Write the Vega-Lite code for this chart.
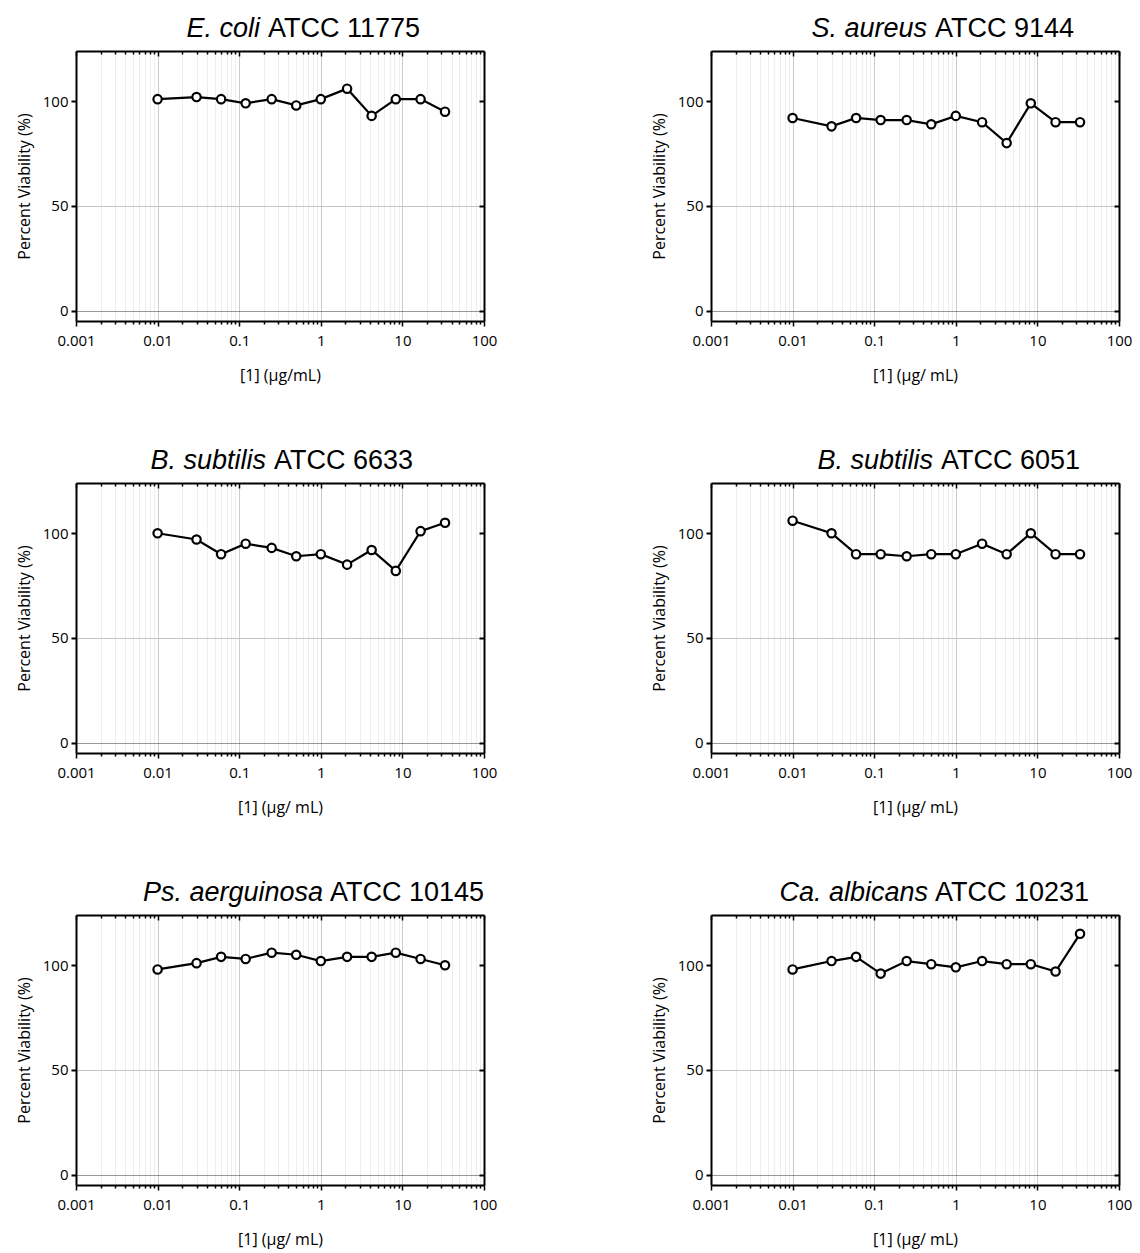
{
  "$schema": "https://vega.github.io/schema/vega-lite/v6.json",
  "background": "white",
  "padding": {"left": 16, "top": 15, "right": 5, "bottom": 2},
  "datasets": {
    "d": [
      {"panel": "p1", "conc": 0.01, "viability": 101}, {"panel": "p1", "conc": 0.03, "viability": 102}, {"panel": "p1", "conc": 0.06, "viability": 101}, {"panel": "p1", "conc": 0.12, "viability": 99}, {"panel": "p1", "conc": 0.25, "viability": 101}, {"panel": "p1", "conc": 0.5, "viability": 98}, {"panel": "p1", "conc": 1, "viability": 101}, {"panel": "p1", "conc": 2.1, "viability": 106}, {"panel": "p1", "conc": 4.2, "viability": 93}, {"panel": "p1", "conc": 8.3, "viability": 101}, {"panel": "p1", "conc": 16.7, "viability": 101}, {"panel": "p1", "conc": 33.3, "viability": 95},
      {"panel": "p2", "conc": 0.01, "viability": 92}, {"panel": "p2", "conc": 0.03, "viability": 88}, {"panel": "p2", "conc": 0.06, "viability": 92}, {"panel": "p2", "conc": 0.12, "viability": 91}, {"panel": "p2", "conc": 0.25, "viability": 91}, {"panel": "p2", "conc": 0.5, "viability": 89}, {"panel": "p2", "conc": 1, "viability": 93}, {"panel": "p2", "conc": 2.1, "viability": 90}, {"panel": "p2", "conc": 4.2, "viability": 80}, {"panel": "p2", "conc": 8.3, "viability": 99}, {"panel": "p2", "conc": 16.7, "viability": 90}, {"panel": "p2", "conc": 33.3, "viability": 90},
      {"panel": "p3", "conc": 0.01, "viability": 100}, {"panel": "p3", "conc": 0.03, "viability": 97}, {"panel": "p3", "conc": 0.06, "viability": 90}, {"panel": "p3", "conc": 0.12, "viability": 95}, {"panel": "p3", "conc": 0.25, "viability": 93}, {"panel": "p3", "conc": 0.5, "viability": 89}, {"panel": "p3", "conc": 1, "viability": 90}, {"panel": "p3", "conc": 2.1, "viability": 85}, {"panel": "p3", "conc": 4.2, "viability": 92}, {"panel": "p3", "conc": 8.3, "viability": 82}, {"panel": "p3", "conc": 16.7, "viability": 101}, {"panel": "p3", "conc": 33.3, "viability": 105},
      {"panel": "p4", "conc": 0.01, "viability": 106}, {"panel": "p4", "conc": 0.03, "viability": 100}, {"panel": "p4", "conc": 0.06, "viability": 90}, {"panel": "p4", "conc": 0.12, "viability": 90}, {"panel": "p4", "conc": 0.25, "viability": 89}, {"panel": "p4", "conc": 0.5, "viability": 90}, {"panel": "p4", "conc": 1, "viability": 90}, {"panel": "p4", "conc": 2.1, "viability": 95}, {"panel": "p4", "conc": 4.2, "viability": 90}, {"panel": "p4", "conc": 8.3, "viability": 100}, {"panel": "p4", "conc": 16.7, "viability": 90}, {"panel": "p4", "conc": 33.3, "viability": 90},
      {"panel": "p5", "conc": 0.01, "viability": 98}, {"panel": "p5", "conc": 0.03, "viability": 101}, {"panel": "p5", "conc": 0.06, "viability": 104}, {"panel": "p5", "conc": 0.12, "viability": 103}, {"panel": "p5", "conc": 0.25, "viability": 106}, {"panel": "p5", "conc": 0.5, "viability": 105}, {"panel": "p5", "conc": 1, "viability": 102}, {"panel": "p5", "conc": 2.1, "viability": 104}, {"panel": "p5", "conc": 4.2, "viability": 104}, {"panel": "p5", "conc": 8.3, "viability": 106}, {"panel": "p5", "conc": 16.7, "viability": 103}, {"panel": "p5", "conc": 33.3, "viability": 100},
      {"panel": "p6", "conc": 0.01, "viability": 98}, {"panel": "p6", "conc": 0.03, "viability": 102}, {"panel": "p6", "conc": 0.06, "viability": 104}, {"panel": "p6", "conc": 0.12, "viability": 96}, {"panel": "p6", "conc": 0.25, "viability": 102}, {"panel": "p6", "conc": 0.5, "viability": 100.5}, {"panel": "p6", "conc": 1, "viability": 99}, {"panel": "p6", "conc": 2.1, "viability": 102}, {"panel": "p6", "conc": 4.2, "viability": 100.5}, {"panel": "p6", "conc": 8.3, "viability": 100.5}, {"panel": "p6", "conc": 16.7, "viability": 97}, {"panel": "p6", "conc": 33.3, "viability": 115}
    ]
  },
  "data": {"name": "d"},
  "columns": 2,
  "spacing": {"row": 64, "column": 154},
  "concat": [
    {
      "title": {"text": "E. coli", "subtitle": "ATCC 11775", "dx": 184, "encode": {"title": {"update": {"align": {"value": "right"}}}, "subtitle": {"update": {"align": {"value": "left"}, "dx": {"value": 192}}}}},
      "width": 408, "height": 270,
      "transform": [{"filter": "datum.panel == 'p1'"}],
      "layer": [
        {"mark": {"type": "line", "color": "black", "strokeWidth": 2.2},
         "encoding": {
           "x": {"field": "conc", "type": "quantitative", "scale": {"type": "log", "domain": [0.001, 100], "nice": false},
             "axis": {"orient": "bottom", "values": [0.001,0.002,0.003,0.004,0.005,0.006,0.007,0.008,0.009,0.01,0.02,0.03,0.04,0.05,0.06,0.07,0.08,0.09,0.1,0.2,0.3,0.4,0.5,0.6,0.7,0.8,0.9,1,2,3,4,5,6,7,8,9,10,20,30,40,50,60,70,80,90,100],
               "grid": true,
               "gridColor": {"condition": {"test": "abs(log(datum.value)/LN10-round(log(datum.value)/LN10))<0.001", "value": "#cccccc"}, "value": "#dddddd"},
               "gridDash": {"condition": {"test": "abs(log(datum.value)/LN10-round(log(datum.value)/LN10))<0.001", "value": []}, "value": [1, 1]},
               "tickSize": {"condition": {"test": "abs(log(datum.value)/LN10-round(log(datum.value)/LN10))<0.001", "value": 5}, "value": 3},
               "tickWidth": 1.5, "tickColor": "black", "domainColor": "black", "domainWidth": 2,
               "labelExpr": "abs(log(datum.value)/LN10-round(log(datum.value)/LN10))<0.001 ? format(datum.value, '~g') : ''",
               "labelFlush": false, "labelOverlap": false, "labelPadding": 7,
               "title": "[1] (μg/mL)", "titlePadding": 19}},
           "y": {"field": "viability", "type": "quantitative", "scale": {"domain": [-5, 124], "nice": false, "zero": false},
             "axis": {"orient": "left", "values": [0, 50, 100], "grid": true,
               "gridColor": {"condition": {"test": "datum.value == 0", "value": "#333333"}, "value": "#c4c4c4"},
               "gridDash": {"condition": {"test": "datum.value == 0", "value": [1, 1]}, "value": []},
               "gridOpacity": {"condition": {"test": "datum.value == 100", "value": 0}, "value": 1},
               "tickSize": 5, "tickWidth": 2, "tickColor": "black", "domainColor": "black", "domainWidth": 2,
               "labelPadding": 3, "title": "Percent Viability (%)", "titlePadding": 10}}
         }},
        {"mark": {"type": "point", "shape": "circle", "filled": true, "fill": "white", "stroke": "black", "strokeWidth": 2.2, "size": 70, "opacity": 1},
         "encoding": {"x": {"field": "conc", "type": "quantitative", "axis": null}, "y": {"field": "viability", "type": "quantitative", "axis": null}}},
        {"mark": {"type": "point", "opacity": 0},
         "encoding": {
           "x": {"field": "conc", "type": "quantitative", "axis": {"orient": "top", "values": [0.001,0.002,0.003,0.004,0.005,0.006,0.007,0.008,0.009,0.01,0.02,0.03,0.04,0.05,0.06,0.07,0.08,0.09,0.1,0.2,0.3,0.4,0.5,0.6,0.7,0.8,0.9,1,2,3,4,5,6,7,8,9,10,20,30,40,50,60,70,80,90,100], "grid": false, "labels": false, "title": null,
             "tickSize": {"condition": {"test": "abs(log(datum.value)/LN10-round(log(datum.value)/LN10))<0.001", "value": -5}, "value": -3},
             "tickWidth": 1.5, "tickColor": "black", "domainColor": "black", "domainWidth": 2}},
           "y": {"field": "viability", "type": "quantitative", "axis": {"orient": "right", "values": [0, 50, 100], "grid": false, "labels": false, "title": null, "tickSize": -5, "tickWidth": 2, "tickColor": "black", "domainColor": "black", "domainWidth": 2}}
         }}
      ],
      "resolve": {"axis": {"x": "independent", "y": "independent"}}
    },
    {
      "title": {"text": "S. aureus", "subtitle": "ATCC 9144", "dx": 216, "encode": {"title": {"update": {"align": {"value": "right"}}}, "subtitle": {"update": {"align": {"value": "left"}, "dx": {"value": 224}}}}},
      "width": 408, "height": 270,
      "transform": [{"filter": "datum.panel == 'p2'"}],
      "layer": [
        {"mark": {"type": "line", "color": "black", "strokeWidth": 2.2},
         "encoding": {
           "x": {"field": "conc", "type": "quantitative", "scale": {"type": "log", "domain": [0.001, 100], "nice": false},
             "axis": {"orient": "bottom", "values": [0.001,0.002,0.003,0.004,0.005,0.006,0.007,0.008,0.009,0.01,0.02,0.03,0.04,0.05,0.06,0.07,0.08,0.09,0.1,0.2,0.3,0.4,0.5,0.6,0.7,0.8,0.9,1,2,3,4,5,6,7,8,9,10,20,30,40,50,60,70,80,90,100],
               "grid": true,
               "gridColor": {"condition": {"test": "abs(log(datum.value)/LN10-round(log(datum.value)/LN10))<0.001", "value": "#cccccc"}, "value": "#dddddd"},
               "gridDash": {"condition": {"test": "abs(log(datum.value)/LN10-round(log(datum.value)/LN10))<0.001", "value": []}, "value": [1, 1]},
               "tickSize": {"condition": {"test": "abs(log(datum.value)/LN10-round(log(datum.value)/LN10))<0.001", "value": 5}, "value": 3},
               "tickWidth": 1.5, "tickColor": "black", "domainColor": "black", "domainWidth": 2,
               "labelExpr": "abs(log(datum.value)/LN10-round(log(datum.value)/LN10))<0.001 ? format(datum.value, '~g') : ''",
               "labelFlush": false, "labelOverlap": false, "labelPadding": 7,
               "title": "[1] (μg/ mL)", "titlePadding": 19}},
           "y": {"field": "viability", "type": "quantitative", "scale": {"domain": [-5, 124], "nice": false, "zero": false},
             "axis": {"orient": "left", "values": [0, 50, 100], "grid": true,
               "gridColor": {"condition": {"test": "datum.value == 0", "value": "#333333"}, "value": "#c4c4c4"},
               "gridDash": {"condition": {"test": "datum.value == 0", "value": [1, 1]}, "value": []},
               "gridOpacity": {"condition": {"test": "datum.value == 100", "value": 0}, "value": 1},
               "tickSize": 5, "tickWidth": 2, "tickColor": "black", "domainColor": "black", "domainWidth": 2,
               "labelPadding": 3, "title": "Percent Viability (%)", "titlePadding": 10}}
         }},
        {"mark": {"type": "point", "shape": "circle", "filled": true, "fill": "white", "stroke": "black", "strokeWidth": 2.2, "size": 70, "opacity": 1},
         "encoding": {"x": {"field": "conc", "type": "quantitative", "axis": null}, "y": {"field": "viability", "type": "quantitative", "axis": null}}},
        {"mark": {"type": "point", "opacity": 0},
         "encoding": {
           "x": {"field": "conc", "type": "quantitative", "axis": {"orient": "top", "values": [0.001,0.002,0.003,0.004,0.005,0.006,0.007,0.008,0.009,0.01,0.02,0.03,0.04,0.05,0.06,0.07,0.08,0.09,0.1,0.2,0.3,0.4,0.5,0.6,0.7,0.8,0.9,1,2,3,4,5,6,7,8,9,10,20,30,40,50,60,70,80,90,100], "grid": false, "labels": false, "title": null,
             "tickSize": {"condition": {"test": "abs(log(datum.value)/LN10-round(log(datum.value)/LN10))<0.001", "value": -5}, "value": -3},
             "tickWidth": 1.5, "tickColor": "black", "domainColor": "black", "domainWidth": 2}},
           "y": {"field": "viability", "type": "quantitative", "axis": {"orient": "right", "values": [0, 50, 100], "grid": false, "labels": false, "title": null, "tickSize": -5, "tickWidth": 2, "tickColor": "black", "domainColor": "black", "domainWidth": 2}}
         }}
      ],
      "resolve": {"axis": {"x": "independent", "y": "independent"}}
    },
    {
      "title": {"text": "B. subtilis", "subtitle": "ATCC 6633", "dx": 190, "encode": {"title": {"update": {"align": {"value": "right"}}}, "subtitle": {"update": {"align": {"value": "left"}, "dx": {"value": 198}}}}},
      "width": 408, "height": 270,
      "transform": [{"filter": "datum.panel == 'p3'"}],
      "layer": [
        {"mark": {"type": "line", "color": "black", "strokeWidth": 2.2},
         "encoding": {
           "x": {"field": "conc", "type": "quantitative", "scale": {"type": "log", "domain": [0.001, 100], "nice": false},
             "axis": {"orient": "bottom", "values": [0.001,0.002,0.003,0.004,0.005,0.006,0.007,0.008,0.009,0.01,0.02,0.03,0.04,0.05,0.06,0.07,0.08,0.09,0.1,0.2,0.3,0.4,0.5,0.6,0.7,0.8,0.9,1,2,3,4,5,6,7,8,9,10,20,30,40,50,60,70,80,90,100],
               "grid": true,
               "gridColor": {"condition": {"test": "abs(log(datum.value)/LN10-round(log(datum.value)/LN10))<0.001", "value": "#cccccc"}, "value": "#dddddd"},
               "gridDash": {"condition": {"test": "abs(log(datum.value)/LN10-round(log(datum.value)/LN10))<0.001", "value": []}, "value": [1, 1]},
               "tickSize": {"condition": {"test": "abs(log(datum.value)/LN10-round(log(datum.value)/LN10))<0.001", "value": 5}, "value": 3},
               "tickWidth": 1.5, "tickColor": "black", "domainColor": "black", "domainWidth": 2,
               "labelExpr": "abs(log(datum.value)/LN10-round(log(datum.value)/LN10))<0.001 ? format(datum.value, '~g') : ''",
               "labelFlush": false, "labelOverlap": false, "labelPadding": 7,
               "title": "[1] (μg/ mL)", "titlePadding": 19}},
           "y": {"field": "viability", "type": "quantitative", "scale": {"domain": [-5, 124], "nice": false, "zero": false},
             "axis": {"orient": "left", "values": [0, 50, 100], "grid": true,
               "gridColor": {"condition": {"test": "datum.value == 0", "value": "#333333"}, "value": "#c4c4c4"},
               "gridDash": {"condition": {"test": "datum.value == 0", "value": [1, 1]}, "value": []},
               "gridOpacity": {"condition": {"test": "datum.value == 100", "value": 0}, "value": 1},
               "tickSize": 5, "tickWidth": 2, "tickColor": "black", "domainColor": "black", "domainWidth": 2,
               "labelPadding": 3, "title": "Percent Viability (%)", "titlePadding": 10}}
         }},
        {"mark": {"type": "point", "shape": "circle", "filled": true, "fill": "white", "stroke": "black", "strokeWidth": 2.2, "size": 70, "opacity": 1},
         "encoding": {"x": {"field": "conc", "type": "quantitative", "axis": null}, "y": {"field": "viability", "type": "quantitative", "axis": null}}},
        {"mark": {"type": "point", "opacity": 0},
         "encoding": {
           "x": {"field": "conc", "type": "quantitative", "axis": {"orient": "top", "values": [0.001,0.002,0.003,0.004,0.005,0.006,0.007,0.008,0.009,0.01,0.02,0.03,0.04,0.05,0.06,0.07,0.08,0.09,0.1,0.2,0.3,0.4,0.5,0.6,0.7,0.8,0.9,1,2,3,4,5,6,7,8,9,10,20,30,40,50,60,70,80,90,100], "grid": false, "labels": false, "title": null,
             "tickSize": {"condition": {"test": "abs(log(datum.value)/LN10-round(log(datum.value)/LN10))<0.001", "value": -5}, "value": -3},
             "tickWidth": 1.5, "tickColor": "black", "domainColor": "black", "domainWidth": 2}},
           "y": {"field": "viability", "type": "quantitative", "axis": {"orient": "right", "values": [0, 50, 100], "grid": false, "labels": false, "title": null, "tickSize": -5, "tickWidth": 2, "tickColor": "black", "domainColor": "black", "domainWidth": 2}}
         }}
      ],
      "resolve": {"axis": {"x": "independent", "y": "independent"}}
    },
    {
      "title": {"text": "B. subtilis", "subtitle": "ATCC 6051", "dx": 222, "encode": {"title": {"update": {"align": {"value": "right"}}}, "subtitle": {"update": {"align": {"value": "left"}, "dx": {"value": 230}}}}},
      "width": 408, "height": 270,
      "transform": [{"filter": "datum.panel == 'p4'"}],
      "layer": [
        {"mark": {"type": "line", "color": "black", "strokeWidth": 2.2},
         "encoding": {
           "x": {"field": "conc", "type": "quantitative", "scale": {"type": "log", "domain": [0.001, 100], "nice": false},
             "axis": {"orient": "bottom", "values": [0.001,0.002,0.003,0.004,0.005,0.006,0.007,0.008,0.009,0.01,0.02,0.03,0.04,0.05,0.06,0.07,0.08,0.09,0.1,0.2,0.3,0.4,0.5,0.6,0.7,0.8,0.9,1,2,3,4,5,6,7,8,9,10,20,30,40,50,60,70,80,90,100],
               "grid": true,
               "gridColor": {"condition": {"test": "abs(log(datum.value)/LN10-round(log(datum.value)/LN10))<0.001", "value": "#cccccc"}, "value": "#dddddd"},
               "gridDash": {"condition": {"test": "abs(log(datum.value)/LN10-round(log(datum.value)/LN10))<0.001", "value": []}, "value": [1, 1]},
               "tickSize": {"condition": {"test": "abs(log(datum.value)/LN10-round(log(datum.value)/LN10))<0.001", "value": 5}, "value": 3},
               "tickWidth": 1.5, "tickColor": "black", "domainColor": "black", "domainWidth": 2,
               "labelExpr": "abs(log(datum.value)/LN10-round(log(datum.value)/LN10))<0.001 ? format(datum.value, '~g') : ''",
               "labelFlush": false, "labelOverlap": false, "labelPadding": 7,
               "title": "[1] (μg/ mL)", "titlePadding": 19}},
           "y": {"field": "viability", "type": "quantitative", "scale": {"domain": [-5, 124], "nice": false, "zero": false},
             "axis": {"orient": "left", "values": [0, 50, 100], "grid": true,
               "gridColor": {"condition": {"test": "datum.value == 0", "value": "#333333"}, "value": "#c4c4c4"},
               "gridDash": {"condition": {"test": "datum.value == 0", "value": [1, 1]}, "value": []},
               "gridOpacity": {"condition": {"test": "datum.value == 100", "value": 0}, "value": 1},
               "tickSize": 5, "tickWidth": 2, "tickColor": "black", "domainColor": "black", "domainWidth": 2,
               "labelPadding": 3, "title": "Percent Viability (%)", "titlePadding": 10}}
         }},
        {"mark": {"type": "point", "shape": "circle", "filled": true, "fill": "white", "stroke": "black", "strokeWidth": 2.2, "size": 70, "opacity": 1},
         "encoding": {"x": {"field": "conc", "type": "quantitative", "axis": null}, "y": {"field": "viability", "type": "quantitative", "axis": null}}},
        {"mark": {"type": "point", "opacity": 0},
         "encoding": {
           "x": {"field": "conc", "type": "quantitative", "axis": {"orient": "top", "values": [0.001,0.002,0.003,0.004,0.005,0.006,0.007,0.008,0.009,0.01,0.02,0.03,0.04,0.05,0.06,0.07,0.08,0.09,0.1,0.2,0.3,0.4,0.5,0.6,0.7,0.8,0.9,1,2,3,4,5,6,7,8,9,10,20,30,40,50,60,70,80,90,100], "grid": false, "labels": false, "title": null,
             "tickSize": {"condition": {"test": "abs(log(datum.value)/LN10-round(log(datum.value)/LN10))<0.001", "value": -5}, "value": -3},
             "tickWidth": 1.5, "tickColor": "black", "domainColor": "black", "domainWidth": 2}},
           "y": {"field": "viability", "type": "quantitative", "axis": {"orient": "right", "values": [0, 50, 100], "grid": false, "labels": false, "title": null, "tickSize": -5, "tickWidth": 2, "tickColor": "black", "domainColor": "black", "domainWidth": 2}}
         }}
      ],
      "resolve": {"axis": {"x": "independent", "y": "independent"}}
    },
    {
      "title": {"text": "Ps. aerguinosa", "subtitle": "ATCC 10145", "dx": 247, "encode": {"title": {"update": {"align": {"value": "right"}}}, "subtitle": {"update": {"align": {"value": "left"}, "dx": {"value": 254}}}}},
      "width": 408, "height": 270,
      "transform": [{"filter": "datum.panel == 'p5'"}],
      "layer": [
        {"mark": {"type": "line", "color": "black", "strokeWidth": 2.2},
         "encoding": {
           "x": {"field": "conc", "type": "quantitative", "scale": {"type": "log", "domain": [0.001, 100], "nice": false},
             "axis": {"orient": "bottom", "values": [0.001,0.002,0.003,0.004,0.005,0.006,0.007,0.008,0.009,0.01,0.02,0.03,0.04,0.05,0.06,0.07,0.08,0.09,0.1,0.2,0.3,0.4,0.5,0.6,0.7,0.8,0.9,1,2,3,4,5,6,7,8,9,10,20,30,40,50,60,70,80,90,100],
               "grid": true,
               "gridColor": {"condition": {"test": "abs(log(datum.value)/LN10-round(log(datum.value)/LN10))<0.001", "value": "#cccccc"}, "value": "#dddddd"},
               "gridDash": {"condition": {"test": "abs(log(datum.value)/LN10-round(log(datum.value)/LN10))<0.001", "value": []}, "value": [1, 1]},
               "tickSize": {"condition": {"test": "abs(log(datum.value)/LN10-round(log(datum.value)/LN10))<0.001", "value": 5}, "value": 3},
               "tickWidth": 1.5, "tickColor": "black", "domainColor": "black", "domainWidth": 2,
               "labelExpr": "abs(log(datum.value)/LN10-round(log(datum.value)/LN10))<0.001 ? format(datum.value, '~g') : ''",
               "labelFlush": false, "labelOverlap": false, "labelPadding": 7,
               "title": "[1] (μg/ mL)", "titlePadding": 19}},
           "y": {"field": "viability", "type": "quantitative", "scale": {"domain": [-5, 124], "nice": false, "zero": false},
             "axis": {"orient": "left", "values": [0, 50, 100], "grid": true,
               "gridColor": {"condition": {"test": "datum.value == 0", "value": "#333333"}, "value": "#c4c4c4"},
               "gridDash": {"condition": {"test": "datum.value == 0", "value": [1, 1]}, "value": []},
               "gridOpacity": {"condition": {"test": "datum.value == 100", "value": 0}, "value": 1},
               "tickSize": 5, "tickWidth": 2, "tickColor": "black", "domainColor": "black", "domainWidth": 2,
               "labelPadding": 3, "title": "Percent Viability (%)", "titlePadding": 10}}
         }},
        {"mark": {"type": "point", "shape": "circle", "filled": true, "fill": "white", "stroke": "black", "strokeWidth": 2.2, "size": 70, "opacity": 1},
         "encoding": {"x": {"field": "conc", "type": "quantitative", "axis": null}, "y": {"field": "viability", "type": "quantitative", "axis": null}}},
        {"mark": {"type": "point", "opacity": 0},
         "encoding": {
           "x": {"field": "conc", "type": "quantitative", "axis": {"orient": "top", "values": [0.001,0.002,0.003,0.004,0.005,0.006,0.007,0.008,0.009,0.01,0.02,0.03,0.04,0.05,0.06,0.07,0.08,0.09,0.1,0.2,0.3,0.4,0.5,0.6,0.7,0.8,0.9,1,2,3,4,5,6,7,8,9,10,20,30,40,50,60,70,80,90,100], "grid": false, "labels": false, "title": null,
             "tickSize": {"condition": {"test": "abs(log(datum.value)/LN10-round(log(datum.value)/LN10))<0.001", "value": -5}, "value": -3},
             "tickWidth": 1.5, "tickColor": "black", "domainColor": "black", "domainWidth": 2}},
           "y": {"field": "viability", "type": "quantitative", "axis": {"orient": "right", "values": [0, 50, 100], "grid": false, "labels": false, "title": null, "tickSize": -5, "tickWidth": 2, "tickColor": "black", "domainColor": "black", "domainWidth": 2}}
         }}
      ],
      "resolve": {"axis": {"x": "independent", "y": "independent"}}
    },
    {
      "title": {"text": "Ca. albicans", "subtitle": "ATCC 10231", "dx": 217, "encode": {"title": {"update": {"align": {"value": "right"}}}, "subtitle": {"update": {"align": {"value": "left"}, "dx": {"value": 224}}}}},
      "width": 408, "height": 270,
      "transform": [{"filter": "datum.panel == 'p6'"}],
      "layer": [
        {"mark": {"type": "line", "color": "black", "strokeWidth": 2.2},
         "encoding": {
           "x": {"field": "conc", "type": "quantitative", "scale": {"type": "log", "domain": [0.001, 100], "nice": false},
             "axis": {"orient": "bottom", "values": [0.001,0.002,0.003,0.004,0.005,0.006,0.007,0.008,0.009,0.01,0.02,0.03,0.04,0.05,0.06,0.07,0.08,0.09,0.1,0.2,0.3,0.4,0.5,0.6,0.7,0.8,0.9,1,2,3,4,5,6,7,8,9,10,20,30,40,50,60,70,80,90,100],
               "grid": true,
               "gridColor": {"condition": {"test": "abs(log(datum.value)/LN10-round(log(datum.value)/LN10))<0.001", "value": "#cccccc"}, "value": "#dddddd"},
               "gridDash": {"condition": {"test": "abs(log(datum.value)/LN10-round(log(datum.value)/LN10))<0.001", "value": []}, "value": [1, 1]},
               "tickSize": {"condition": {"test": "abs(log(datum.value)/LN10-round(log(datum.value)/LN10))<0.001", "value": 5}, "value": 3},
               "tickWidth": 1.5, "tickColor": "black", "domainColor": "black", "domainWidth": 2,
               "labelExpr": "abs(log(datum.value)/LN10-round(log(datum.value)/LN10))<0.001 ? format(datum.value, '~g') : ''",
               "labelFlush": false, "labelOverlap": false, "labelPadding": 7,
               "title": "[1] (μg/ mL)", "titlePadding": 19}},
           "y": {"field": "viability", "type": "quantitative", "scale": {"domain": [-5, 124], "nice": false, "zero": false},
             "axis": {"orient": "left", "values": [0, 50, 100], "grid": true,
               "gridColor": {"condition": {"test": "datum.value == 0", "value": "#333333"}, "value": "#c4c4c4"},
               "gridDash": {"condition": {"test": "datum.value == 0", "value": [1, 1]}, "value": []},
               "gridOpacity": {"condition": {"test": "datum.value == 100", "value": 0}, "value": 1},
               "tickSize": 5, "tickWidth": 2, "tickColor": "black", "domainColor": "black", "domainWidth": 2,
               "labelPadding": 3, "title": "Percent Viability (%)", "titlePadding": 10}}
         }},
        {"mark": {"type": "point", "shape": "circle", "filled": true, "fill": "white", "stroke": "black", "strokeWidth": 2.2, "size": 70, "opacity": 1},
         "encoding": {"x": {"field": "conc", "type": "quantitative", "axis": null}, "y": {"field": "viability", "type": "quantitative", "axis": null}}},
        {"mark": {"type": "point", "opacity": 0},
         "encoding": {
           "x": {"field": "conc", "type": "quantitative", "axis": {"orient": "top", "values": [0.001,0.002,0.003,0.004,0.005,0.006,0.007,0.008,0.009,0.01,0.02,0.03,0.04,0.05,0.06,0.07,0.08,0.09,0.1,0.2,0.3,0.4,0.5,0.6,0.7,0.8,0.9,1,2,3,4,5,6,7,8,9,10,20,30,40,50,60,70,80,90,100], "grid": false, "labels": false, "title": null,
             "tickSize": {"condition": {"test": "abs(log(datum.value)/LN10-round(log(datum.value)/LN10))<0.001", "value": -5}, "value": -3},
             "tickWidth": 1.5, "tickColor": "black", "domainColor": "black", "domainWidth": 2}},
           "y": {"field": "viability", "type": "quantitative", "axis": {"orient": "right", "values": [0, 50, 100], "grid": false, "labels": false, "title": null, "tickSize": -5, "tickWidth": 2, "tickColor": "black", "domainColor": "black", "domainWidth": 2}}
         }}
      ],
      "resolve": {"axis": {"x": "independent", "y": "independent"}}
    }
  ],
  "config": {
    "view": {"stroke": null},
    "font": "Open Sans",
    "title": {"font": "Liberation Sans", "fontSize": 27, "fontStyle": "italic", "fontWeight": "normal", "color": "black",
      "subtitleFont": "Liberation Sans", "subtitleFontSize": 27, "subtitleFontStyle": "normal", "subtitleFontWeight": "normal", "subtitleColor": "black",
      "subtitlePadding": -27, "anchor": "start", "frame": "group", "offset": 7},
    "axis": {"labelFont": "Open Sans", "labelFontSize": 15, "labelColor": "black", "titleFont": "Open Sans", "titleFontSize": 16, "titleFontWeight": "normal", "titleColor": "black"}
  }
}
